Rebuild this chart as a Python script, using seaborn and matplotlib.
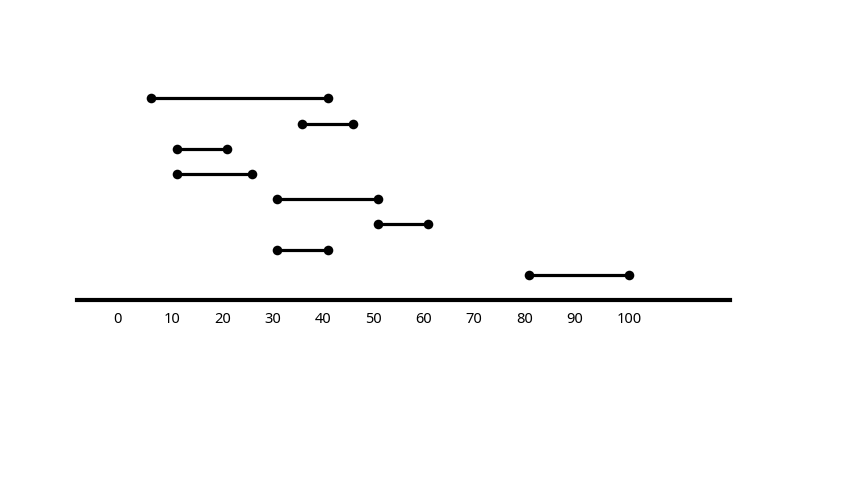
import matplotlib.pyplot as plt
import matplotlib.transforms as mtransforms
import pandas as pd
import seaborn as sns

# interval data, top row first
starts = [5, 35, 10, 10, 30, 50, 30, 80]
ends = [40, 45, 20, 25, 50, 60, 40, 100]
ticks = [0, 10, 20, 30, 40, 50, 60, 70, 80, 90, 100]

rows = list(range(len(starts), 0, -1))

sns.set_theme(style="white")
plt.rcParams["font.family"] = ["Noto Sans", "DejaVu Sans"]

fig = plt.figure(figsize=(8.53, 4.8), dpi=100)
ax = fig.add_axes([77 / 853, 180 / 480, 653 / 853, 252 / 480])

# segments
ax.hlines(rows, starts, ends, color="black", linewidth=2.3, zorder=2)

# endpoints
pts = pd.DataFrame({"x": starts + ends, "y": rows + rows})
sns.scatterplot(data=pts, x="x", y="y", ax=ax, color="black", s=48,
                edgecolor="black", linewidth=0, zorder=3, legend=False)

ax.set_xlim(-9.8, 120)
ax.set_ylim(0, 10)
ax.set_xticks(ticks)
ax.set_xticklabels([str(t) for t in ticks], fontsize=10.5, color="black")
ax.set_yticks([])
ax.set_xlabel("")
ax.set_ylabel("")
ax.tick_params(axis="x", length=0, pad=8.5)

# labels sit left-aligned a little before each tick
shift = mtransforms.ScaledTranslation(-13 / 100, 0, fig.dpi_scale_trans)
for lab in ax.get_xticklabels():
    lab.set_horizontalalignment("left")
    lab.set_transform(lab.get_transform() + shift)

for side in ["top", "left", "right"]:
    ax.spines[side].set_visible(False)
ax.spines["bottom"].set_linewidth(3)
ax.spines["bottom"].set_color("black")

fig.savefig("out.png", dpi=100)
